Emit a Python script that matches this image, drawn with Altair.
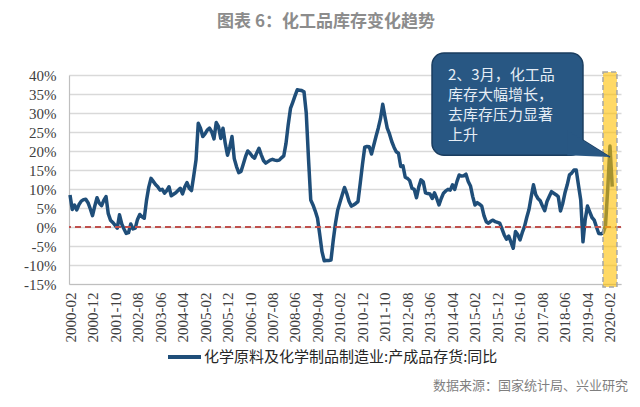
import altair as alt
import pandas as pd

# 化学原料及化学制品制造业:产成品存货:同比 (%), monthly from 2000-02 to 2020-03
values = [
    8.4, 4.6, 5.8, 4.5, 5.9, 6.8, 7.2, 7.3, 6.4, 4.8,
    3.0, 5.5, 7.7, 6.3, 5.6, 7.0, 8.0, 3.5, 1.8, 1.2,
    0.5, -0.3, 3.2, 0.8, -0.5, -1.7, -1.5, 0.8, -0.5, -0.3,
    2.0, 3.3, 2.7, 2.3, 7.0, 10.5, 12.8, 12.0, 11.2, 10.6,
    9.7, 9.9, 8.9, 9.6, 10.6, 8.2, 8.6, 9.0, 9.6, 10.2,
    8.7, 10.5, 11.7, 10.2, 9.6, 13.5, 17.6, 27.3, 26.0, 23.8,
    24.5, 25.5, 26.0, 25.0, 23.2, 27.5, 26.4, 23.3, 26.0, 22.0,
    18.9, 21.0, 23.8, 18.0, 15.9, 14.3, 14.6, 16.5, 18.5, 20.0,
    19.4, 18.6, 18.1, 19.5, 20.7, 19.0, 17.5, 16.8, 17.2, 17.6,
    17.8, 17.6, 17.5, 17.6, 18.2, 18.7, 22.0, 27.0, 31.2, 32.8,
    34.5, 36.1, 36.0, 35.9, 35.6, 30.0, 18.0, 7.1, 5.8, 4.2,
    2.3, -2.0, -6.5, -8.9, -8.8, -8.8, -8.7, -3.5, 1.0, 4.5,
    6.5, 8.5, 10.4, 8.8, 6.8, 5.5, 5.8, 6.2, 6.7, 11.5,
    16.5, 21.0, 21.2, 21.1, 19.2, 21.5, 23.8, 26.0, 28.5, 32.3,
    29.0, 26.0, 24.5, 22.5, 21.0, 19.8, 19.4, 15.9, 16.1, 13.1,
    12.8, 12.2, 10.2, 9.9, 7.7, 10.5, 12.4, 11.9, 9.0, 8.8,
    8.7, 7.5, 9.0, 7.5, 5.8, 7.5, 8.9, 9.5, 9.9, 9.7,
    11.1, 9.9, 12.0, 13.7, 13.4, 13.5, 13.9, 12.0, 10.8, 8.0,
    5.8, 6.4, 6.0, 5.5, 3.0, 1.4, 1.0, 1.5, 1.8, 1.4,
    1.2, 1.0, -0.5, -2.1, -3.2, -2.4, -4.0, -5.6, -1.2, -2.0,
    -3.4, -1.5, 0.1, 2.5, 4.6, 8.0, 11.1, 8.5, 7.5, 6.9,
    5.5, 4.3, 6.7, 8.0, 9.3, 8.9, 8.5, 8.0, 4.2, 6.2,
    9.0, 11.1, 13.7, 14.2, 15.0, 15.0, 11.0, 7.1, -3.9, 2.0,
    5.5, 4.0, 2.5, 1.8, 0.0, -1.7, -1.8, -1.5, 0.3, 10.0,
    21.3, 10.6,
]
month_index = list(range(len(values)))
x_tick_index = list(range(0, 241, 10))   # 2000-02, 2000-12, ... 2020-02
y_ticks = list(range(-15, 41, 5))

title_text = "图表 6：化工品库存变化趋势"
legend_text = "化学原料及化学制品制造业:产成品存货:同比"
source_text = "数据来源：国家统计局、兴业研究"
callout_lines = ["2、3月，化工品", "库存大幅增长，", "去库存压力显著", "上升"]

# highlight (2020-01..2020-03) and callout geometry in data units
highlight = {"x0": [236.9], "x1": [243.1], "y0": [40.8], "y1": [-15.8]}
callout_box = {"x0": [160.9], "x1": [228.0], "y0": [45.8], "y1": [18.9]}
pointer = {"x": [221.0, 240.0], "ytop": [25.4, 18.4], "ybot": [18.9, 18.4]}
callout_pos = {"x": [168.0] * 4, "y": [40.0, 34.7, 29.5, 24.2]}

XS = alt.Scale(domain=[-0.45, 244.9], nice=False, zero=False)
YS = alt.Scale(domain=[-15, 40], nice=False, zero=False)

BLUE = "#1F4E79"
CJK = "Noto Sans CJK SC"
SERIF = "Liberation Serif"

df = pd.DataFrame({"m": month_index, "v": values})

x_label_expr = (
    "(2000 + floor((datum.value + 1) / 12)) + '-' + "
    "((((datum.value + 1) % 12) + 1) < 10 ? '0' : '') + (((datum.value + 1) % 12) + 1)"
)

X_AXIS = alt.Axis(values=x_tick_index, labelExpr=x_label_expr, labelAngle=270,
                  grid=False, ticks=False, title=None, domainColor="#BFBFBF",
                  domainWidth=1.2, labelPadding=8, labelFont=SERIF,
                  labelFontSize=15, labelColor="#404040", labelOverlap=False)
Y_AXIS = alt.Axis(values=y_ticks, labelExpr="datum.value + '%'", grid=True,
                  gridColor="#D9D9D9", gridWidth=1.3, ticks=False, title=None,
                  domainColor="#BFBFBF", domainWidth=1.2, labelPadding=13,
                  labelFont=SERIF, labelFontSize=15, labelColor="#404040")


def X(field):
    return alt.X(field, scale=XS, axis=X_AXIS, title=None)


def Y(field):
    return alt.Y(field, scale=YS, axis=Y_AXIS, title=None)


line = alt.Chart(df).mark_line(color=BLUE, strokeWidth=3.5, strokeJoin="round").encode(
    x=X("m:Q"), y=Y("v:Q"),
)

zero_rule = alt.Chart(pd.DataFrame({"z": [0]})).mark_rule(
    color="#C0504D", strokeDash=[6, 4], strokeWidth=2
).encode(y=Y("z:Q"))

hl = alt.Chart(pd.DataFrame(highlight)).mark_rect(
    fill="#FFC000", fillOpacity=0.6, stroke="#A6A6A6", strokeDash=[5, 3], strokeWidth=1.5
).encode(x=X("x0:Q"), x2="x1:Q", y=Y("y0:Q"), y2="y1:Q")

box = alt.Chart(pd.DataFrame(callout_box)).mark_rect(
    fill="#285783", stroke="#1A3D5F", strokeWidth=1.5, cornerRadius=12
).encode(x=X("x0:Q"), x2="x1:Q", y=Y("y0:Q"), y2="y1:Q")

ptr = alt.Chart(pd.DataFrame(pointer)).mark_area(
    color="#285783", opacity=1
).encode(x=X("x:Q"), y=Y("ytop:Q"), y2="ybot:Q")

ptr_edge = alt.Chart(pd.DataFrame(pointer)).mark_line(
    color="#1A3D5F", strokeWidth=1.5
).encode(x=X("x:Q"), y=Y("ytop:Q"))

ctext = alt.Chart(pd.DataFrame({**callout_pos, "t": callout_lines})).mark_text(
    align="left", baseline="middle", font=CJK, fontSize=15, color="#E6EDF5"
).encode(x=X("x:Q"), y=Y("y:Q"), text="t:N")

title = alt.Chart(pd.DataFrame({"t": [title_text]})).mark_text(
    align="center", baseline="middle", font=CJK, fontSize=17, fontWeight="bold",
    color="#8C8C8C"
).encode(x=alt.value(257), y=alt.value(-53), text="t:N")

legend_line = alt.Chart(pd.DataFrame({"a": [0]})).mark_rule(
    color=BLUE, strokeWidth=4
).encode(x=alt.value(99), x2=alt.value(132), y=alt.value(282))

legend_label = alt.Chart(pd.DataFrame({"t": [legend_text]})).mark_text(
    align="left", baseline="middle", font=CJK, fontSize=15, color="#262626"
).encode(x=alt.value(135), y=alt.value(282), text="t:N")

source = alt.Chart(pd.DataFrame({"t": [source_text]})).mark_text(
    align="right", baseline="middle", font=CJK, fontSize=13, color="#7F7F7F"
).encode(x=alt.value(559), y=alt.value(311), text="t:N")

chart = alt.layer(
    line, zero_rule, hl, ptr_edge, box, ptr, ctext,
    title, legend_line, legend_label, source
).properties(
    width=552, height=209,
    autosize=alt.AutoSizeParams(type="none"),
    padding={"left": 61, "top": 67, "right": 11, "bottom": 114},
    background="white",
).configure_view(stroke=None).configure_axis(
    labelFont=SERIF, labelFontSize=15, labelColor="#404040"
)

chart.save("out.html", embed_options={"renderer": "svg", "actions": False})
